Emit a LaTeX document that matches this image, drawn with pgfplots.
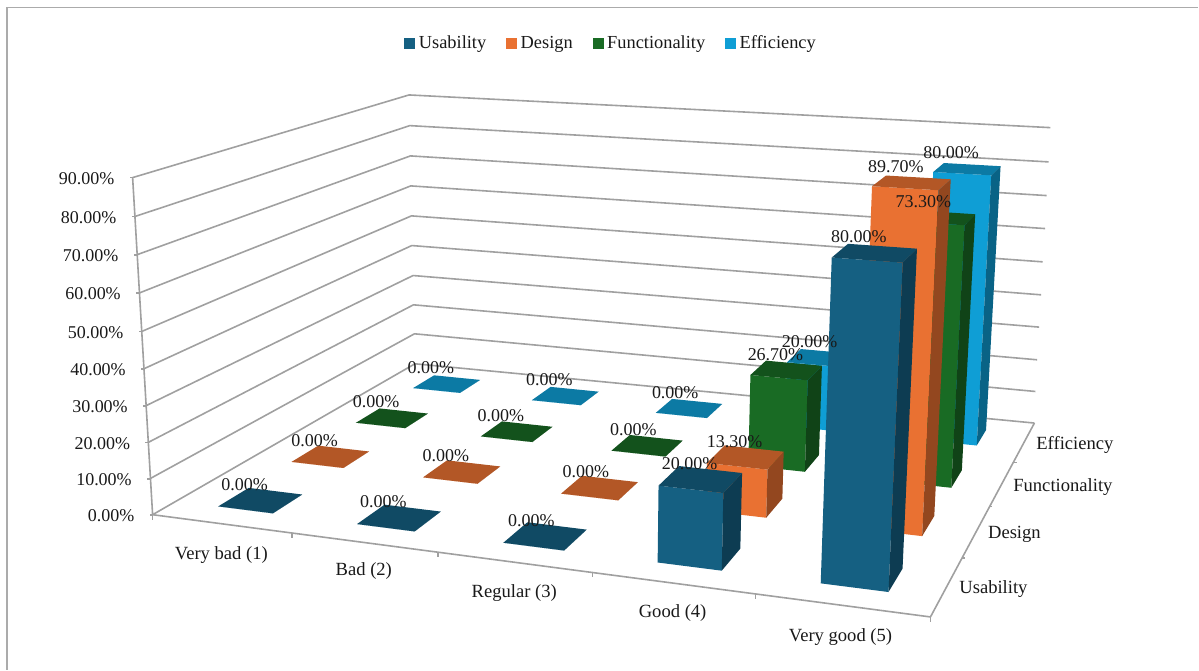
\documentclass[border=0pt]{standalone}
\usepackage{pgfplots}
\pgfplotsset{compat=1.18}
\usepackage{fontspec}
\setmainfont{Liberation Serif}

% Face colours of the four series: front, top, side
\definecolor{ufront}{HTML}{156082}\definecolor{utop}{HTML}{104A64}\definecolor{uside}{HTML}{0D3C52}
\definecolor{dfront}{HTML}{E97132}\definecolor{dtop}{HTML}{B35726}\definecolor{dside}{HTML}{93471F}
\definecolor{ffront}{HTML}{196B24}\definecolor{ftop}{HTML}{13521C}\definecolor{fside}{HTML}{104317}
\definecolor{efront}{HTML}{0F9ED5}\definecolor{etop}{HTML}{0C7AA4}\definecolor{eside}{HTML}{096386}
\definecolor{gridgray}{HTML}{A0A0A0}
\definecolor{framegray}{HTML}{ABABAB}

% Perspective projection of (category i, series j, value v) to the drawing plane
\newcommand{\project}[4]{%
  \pgfmathsetmacro\pw{1-0.02534*(#2-0.3)+0.0689*(#3-0.3)-0.000473*#4}%
  \pgfmathsetmacro\px{(218.3+129.909*(#2-0.3)+93.467*(#3-0.3)-0.2696*#4)/\pw}%
  \pgfmathsetmacro\py{(506.7+4.4545*(#2-0.3)-12.7*(#3-0.3)-3.784*#4)/\pw}%
  \expandafter\let\csname p#1x\endcsname\px
  \expandafter\let\csname p#1y\endcsname\py
}

% One 3D column: category, series, value, colour prefix
\newcommand{\column}[4]{%
  \pgfmathsetmacro\il{#1+0.3}\pgfmathsetmacro\ir{#1+0.7}%
  \pgfmathsetmacro\jf{#2+0.3}\pgfmathsetmacro\jb{#2+0.7}%
  \project{a}{\il}{\jf}{0}\project{b}{\ir}{\jf}{0}\project{c}{\ir}{\jb}{0}%
  \project{d}{\il}{\jf}{#3}\project{e}{\ir}{\jf}{#3}\project{f}{\ir}{\jb}{#3}\project{g}{\il}{\jb}{#3}%
  \addplot[forget plot,draw=none,fill=#4front] coordinates {(\pax,\pay)(\pbx,\pby)(\pex,\pey)(\pdx,\pdy)} --cycle;
  \addplot[forget plot,draw=none,fill=#4side] coordinates {(\pbx,\pby)(\pcx,\pcy)(\pfx,\pfy)(\pex,\pey)} --cycle;
  \addplot[forget plot,draw=none,fill=#4top] coordinates {(\pdx,\pdy)(\pex,\pey)(\pfx,\pfy)(\pgx,\pgy)} --cycle;
}

% Value label over a column, nudged sideways per category
\newcommand{\valuelabel}[3]{%
  \pgfmathsetmacro\ic{#1+0.5}\pgfmathsetmacro\jc{#2+0.5}%
  \project{m}{\ic}{\jc}{#3}%
  \pgfmathsetmacro\nudge{{0,0,2,5,0}[#1]}%
  \pgfmathsetmacro\lx{\pmx-16+\nudge}\pgfmathsetmacro\ly{\pmy-16}%
  \edef\tmp{\noexpand\node[chartfont] at (axis cs:\lx,\ly) {#3\noexpand\%};}\tmp
}

% Wall grid line: left axis, back corner, right end
\newcommand{\wall}[6]{%
  \addplot[forget plot,gridgray,line width=1.6pt,line join=round] coordinates {(#1,#2)(#3,#4)(#5,#6)};
}
\newcommand{\seg}[4]{%
  \addplot[forget plot,gridgray,line width=1.6pt] coordinates {(#1,#2)(#3,#4)};
}
\newcommand{\ztick}[3]{%
  \pgfmathsetmacro\tx{#1-3}%
  \seg{#1}{#2}{\tx}{#2}%
  \pgfmathsetmacro\lx{#1-18}\pgfmathsetmacro\ly{#2+1}%
  \edef\tmp{\noexpand\node[chartfont,anchor=east,inner sep=0pt] at (axis cs:\lx,\ly) {#3\noexpand\%};}\tmp
}

\tikzset{chartfont/.style={font=\fontsize{18}{20}\selectfont,text=black!90},
  namefont/.style={font=\fontsize{18.6}{20}\selectfont,text=black!90}}

\begin{document}
\begin{tikzpicture}
\begin{axis}[
  scale only axis,width=1199pt,height=670pt,
  xmin=0,xmax=1199,ymin=0,ymax=670,y dir=reverse,
  hide axis,clip=false,
  legend columns=4,
  legend cell align=left,
  legend style={draw=none,fill=none,at={(axis cs:611.5,43)},anchor=center,
    font=\fontsize{18.4}{20}\selectfont,text=black!90,
    /tikz/every even column/.append style={column sep=18pt}},
  legend image code/.code={\fill[#1] (0pt,-5pt) rectangle (10pt,5pt);\path (12pt,0pt);},
]
% page extent
\path (axis cs:0,0) rectangle (axis cs:1199,670);
% chart frame
\addplot[forget plot,framegray,line width=1.4pt] coordinates {(7,670)(7,7.5)(1199,7.5)};

% wall grid, 90 % down to 0 %
\wall{132.7}{177.7}{409.3}{95}{1051}{127.7}
\wall{134.7}{216.7}{410}{125.7}{1049.3}{162}
\wall{136.7}{255}{410.7}{156}{1047.3}{195.7}
\wall{139}{293.3}{411}{186}{1045.7}{228.7}
\wall{141.7}{331.7}{411.7}{216}{1043.3}{262}
\wall{144}{369}{412}{245.7}{1041.7}{295}
\wall{146}{406}{413.3}{275.7}{1039.7}{327.3}
\wall{148.3}{442.7}{413.7}{305}{1037.7}{360}
\wall{150}{479}{414.7}{334}{1036}{391.7}
\wall{152.7}{515}{415.2}{364}{1035}{423.3}

% value axis with its ticks and labels
\seg{132.7}{177.7}{152.7}{515}
\ztick{132.7}{177.7}{90.00}
\ztick{134.7}{216.7}{80.00}
\ztick{136.7}{255}{70.00}
\ztick{139}{293.3}{60.00}
\ztick{141.7}{331.7}{50.00}
\ztick{144}{369}{40.00}
\ztick{146}{406}{30.00}
\ztick{148.3}{442.7}{20.00}
\ztick{150}{479}{10.00}
\ztick{152.7}{515}{0.00}

% floor edges and their ticks
\seg{152.7}{515}{931}{617.3}
\seg{931}{617.3}{1035}{423.3}
\seg{152.7}{515}{152.7}{520}
\seg{292}{533.3}{292}{538}
\seg{438}{552.5}{438}{557}
\seg{593}{572.8}{593}{577}
\seg{756}{594.3}{756}{599}
\seg{931}{617.3}{931}{622}
\seg{962.7}{558.3}{966}{558.3}
\seg{990}{506.7}{993}{506.7}
\seg{1015}{462.7}{1018}{462.7}

% columns, back row first
\column{0}{3}{0.00}{e}\column{1}{3}{0.00}{e}\column{2}{3}{0.00}{e}\column{3}{3}{20.00}{e}\column{4}{3}{80.00}{e}
\column{0}{2}{0.00}{f}\column{1}{2}{0.00}{f}\column{2}{2}{0.00}{f}\column{3}{2}{26.70}{f}\column{4}{2}{73.30}{f}
\column{0}{1}{0.00}{d}\column{1}{1}{0.00}{d}\column{2}{1}{0.00}{d}\column{3}{1}{13.30}{d}\column{4}{1}{89.70}{d}
\column{0}{0}{0.00}{u}\column{1}{0}{0.00}{u}\column{2}{0}{0.00}{u}\column{3}{0}{20.00}{u}\column{4}{0}{80.00}{u}

% value labels
\valuelabel{0}{3}{0.00}\valuelabel{1}{3}{0.00}\valuelabel{2}{3}{0.00}\valuelabel{3}{3}{20.00}\valuelabel{4}{3}{80.00}
\valuelabel{0}{2}{0.00}\valuelabel{1}{2}{0.00}\valuelabel{2}{2}{0.00}\valuelabel{3}{2}{26.70}\valuelabel{4}{2}{73.30}
\valuelabel{0}{1}{0.00}\valuelabel{1}{1}{0.00}\valuelabel{2}{1}{0.00}\valuelabel{3}{1}{13.30}\valuelabel{4}{1}{89.70}
\valuelabel{0}{0}{0.00}\valuelabel{1}{0}{0.00}\valuelabel{2}{0}{0.00}\valuelabel{3}{0}{20.00}\valuelabel{4}{0}{80.00}

% category and series names
\node[namefont] at (axis cs:221.5,555.5) {Very bad (1)};
\node[namefont] at (axis cs:364,571.5) {Bad (2)};
\node[namefont] at (axis cs:514.5,593.5) {Regular (3)};
\node[namefont] at (axis cs:673,613.5) {Good (4)};
\node[namefont] at (axis cs:841,637.5) {Very good (5)};
\node[namefont] at (axis cs:994,589.5) {Usability};
\node[namefont] at (axis cs:1015,534.5) {Design};
\node[namefont] at (axis cs:1063.5,487.5) {Functionality};
\node[namefont] at (axis cs:1075.5,445.5) {Efficiency};

\addlegendimage{ufront}\addlegendentry{Usability}
\addlegendimage{dfront}\addlegendentry{Design}
\addlegendimage{ffront}\addlegendentry{Functionality}
\addlegendimage{efront}\addlegendentry{Efficiency}
\end{axis}
\end{tikzpicture}
\end{document}
